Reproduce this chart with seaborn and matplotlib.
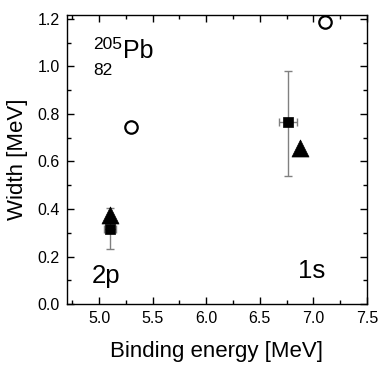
import matplotlib
matplotlib.use("Agg")
import matplotlib.pyplot as plt
import seaborn as sns
import pandas as pd
from matplotlib.ticker import MultipleLocator

# Data
circle_x = [5.30, 7.11]
circle_y = [0.745, 1.185]

square_x = [5.10, 6.76]
square_y = [0.318, 0.765]
square_yerr_lo = [0.085, 0.225]
square_yerr_hi = [0.085, 0.215]
square_xerr = [0.055, 0.085]

tri_x = [5.10, 6.87]
tri_y = [0.374, 0.655]

xticks = [5.0, 5.5, 6.0, 6.5, 7.0, 7.5]
yticks = [0.0, 0.2, 0.4, 0.6, 0.8, 1.0, 1.2]

sns.set_style("ticks")
plt.rcParams['font.family'] = ['Liberation Sans', 'DejaVu Sans']
plt.rcParams['text.color'] = 'black'
plt.rcParams['axes.labelcolor'] = 'black'

fig = plt.figure(figsize=(3.82, 3.70), dpi=100)
ax = fig.add_axes([0.175, 0.178, 0.786, 0.781])

ax.errorbar(square_x, square_y, yerr=[square_yerr_lo, square_yerr_hi],
            xerr=square_xerr, fmt='none', ecolor='#808080', elinewidth=1.0,
            capsize=3, capthick=1.0, zorder=2)

df_c = pd.DataFrame({'x': circle_x, 'y': circle_y})
df_s = pd.DataFrame({'x': square_x, 'y': square_y})
df_t = pd.DataFrame({'x': tri_x, 'y': tri_y})

sns.scatterplot(data=df_c, x='x', y='y', ax=ax, marker='o', s=80,
                facecolor='white', edgecolor='black', linewidth=1.6, zorder=3)
sns.scatterplot(data=df_s, x='x', y='y', ax=ax, marker='s', s=60,
                color='black', edgecolor='black', linewidth=0.5, zorder=3)
sns.scatterplot(data=df_t, x='x', y='y', ax=ax, marker='^', s=150,
                color='black', edgecolor='black', linewidth=0.5, zorder=4)

ax.set_xlim(4.7, 7.5)
ax.set_ylim(0.0, 1.215)
ax.set_xticks(xticks)
ax.set_yticks(yticks)
ax.set_xticklabels([f"{v:.1f}" for v in xticks])
ax.set_yticklabels([f"{v:.1f}" for v in yticks])
ax.xaxis.set_minor_locator(MultipleLocator(0.25))
ax.yaxis.set_minor_locator(MultipleLocator(0.1))
ax.tick_params(which='both', direction='in', top=True, right=True,
               labelsize=11.5, width=1.0, colors='black', labelcolor='black')
ax.tick_params(which='major', length=5, pad=5)
ax.tick_params(which='minor', length=3)
for s in ax.spines.values():
    s.set_linewidth(1.0)
    s.set_color('black')

ax.set_xlabel("Binding energy [MeV]", fontsize=16, labelpad=11, color='black')
ax.set_ylabel("Width [MeV]", fontsize=16, labelpad=7, color='black')

ax.text(4.943, 1.071, "205", fontsize=12.5, ha='left', va='baseline', color='black')
ax.text(5.223, 1.034, "Pb", fontsize=18, ha='left', va='baseline', color='black')
ax.text(4.943, 0.962, "82", fontsize=12.5, ha='left', va='baseline', color='black')
ax.text(4.934, 0.088, "2p", fontsize=18.5, ha='left', va='baseline', color='black')
ax.text(6.859, 0.109, "1s", fontsize=18.5, ha='left', va='baseline', color='black')

fig.savefig("out.png", dpi=100)
